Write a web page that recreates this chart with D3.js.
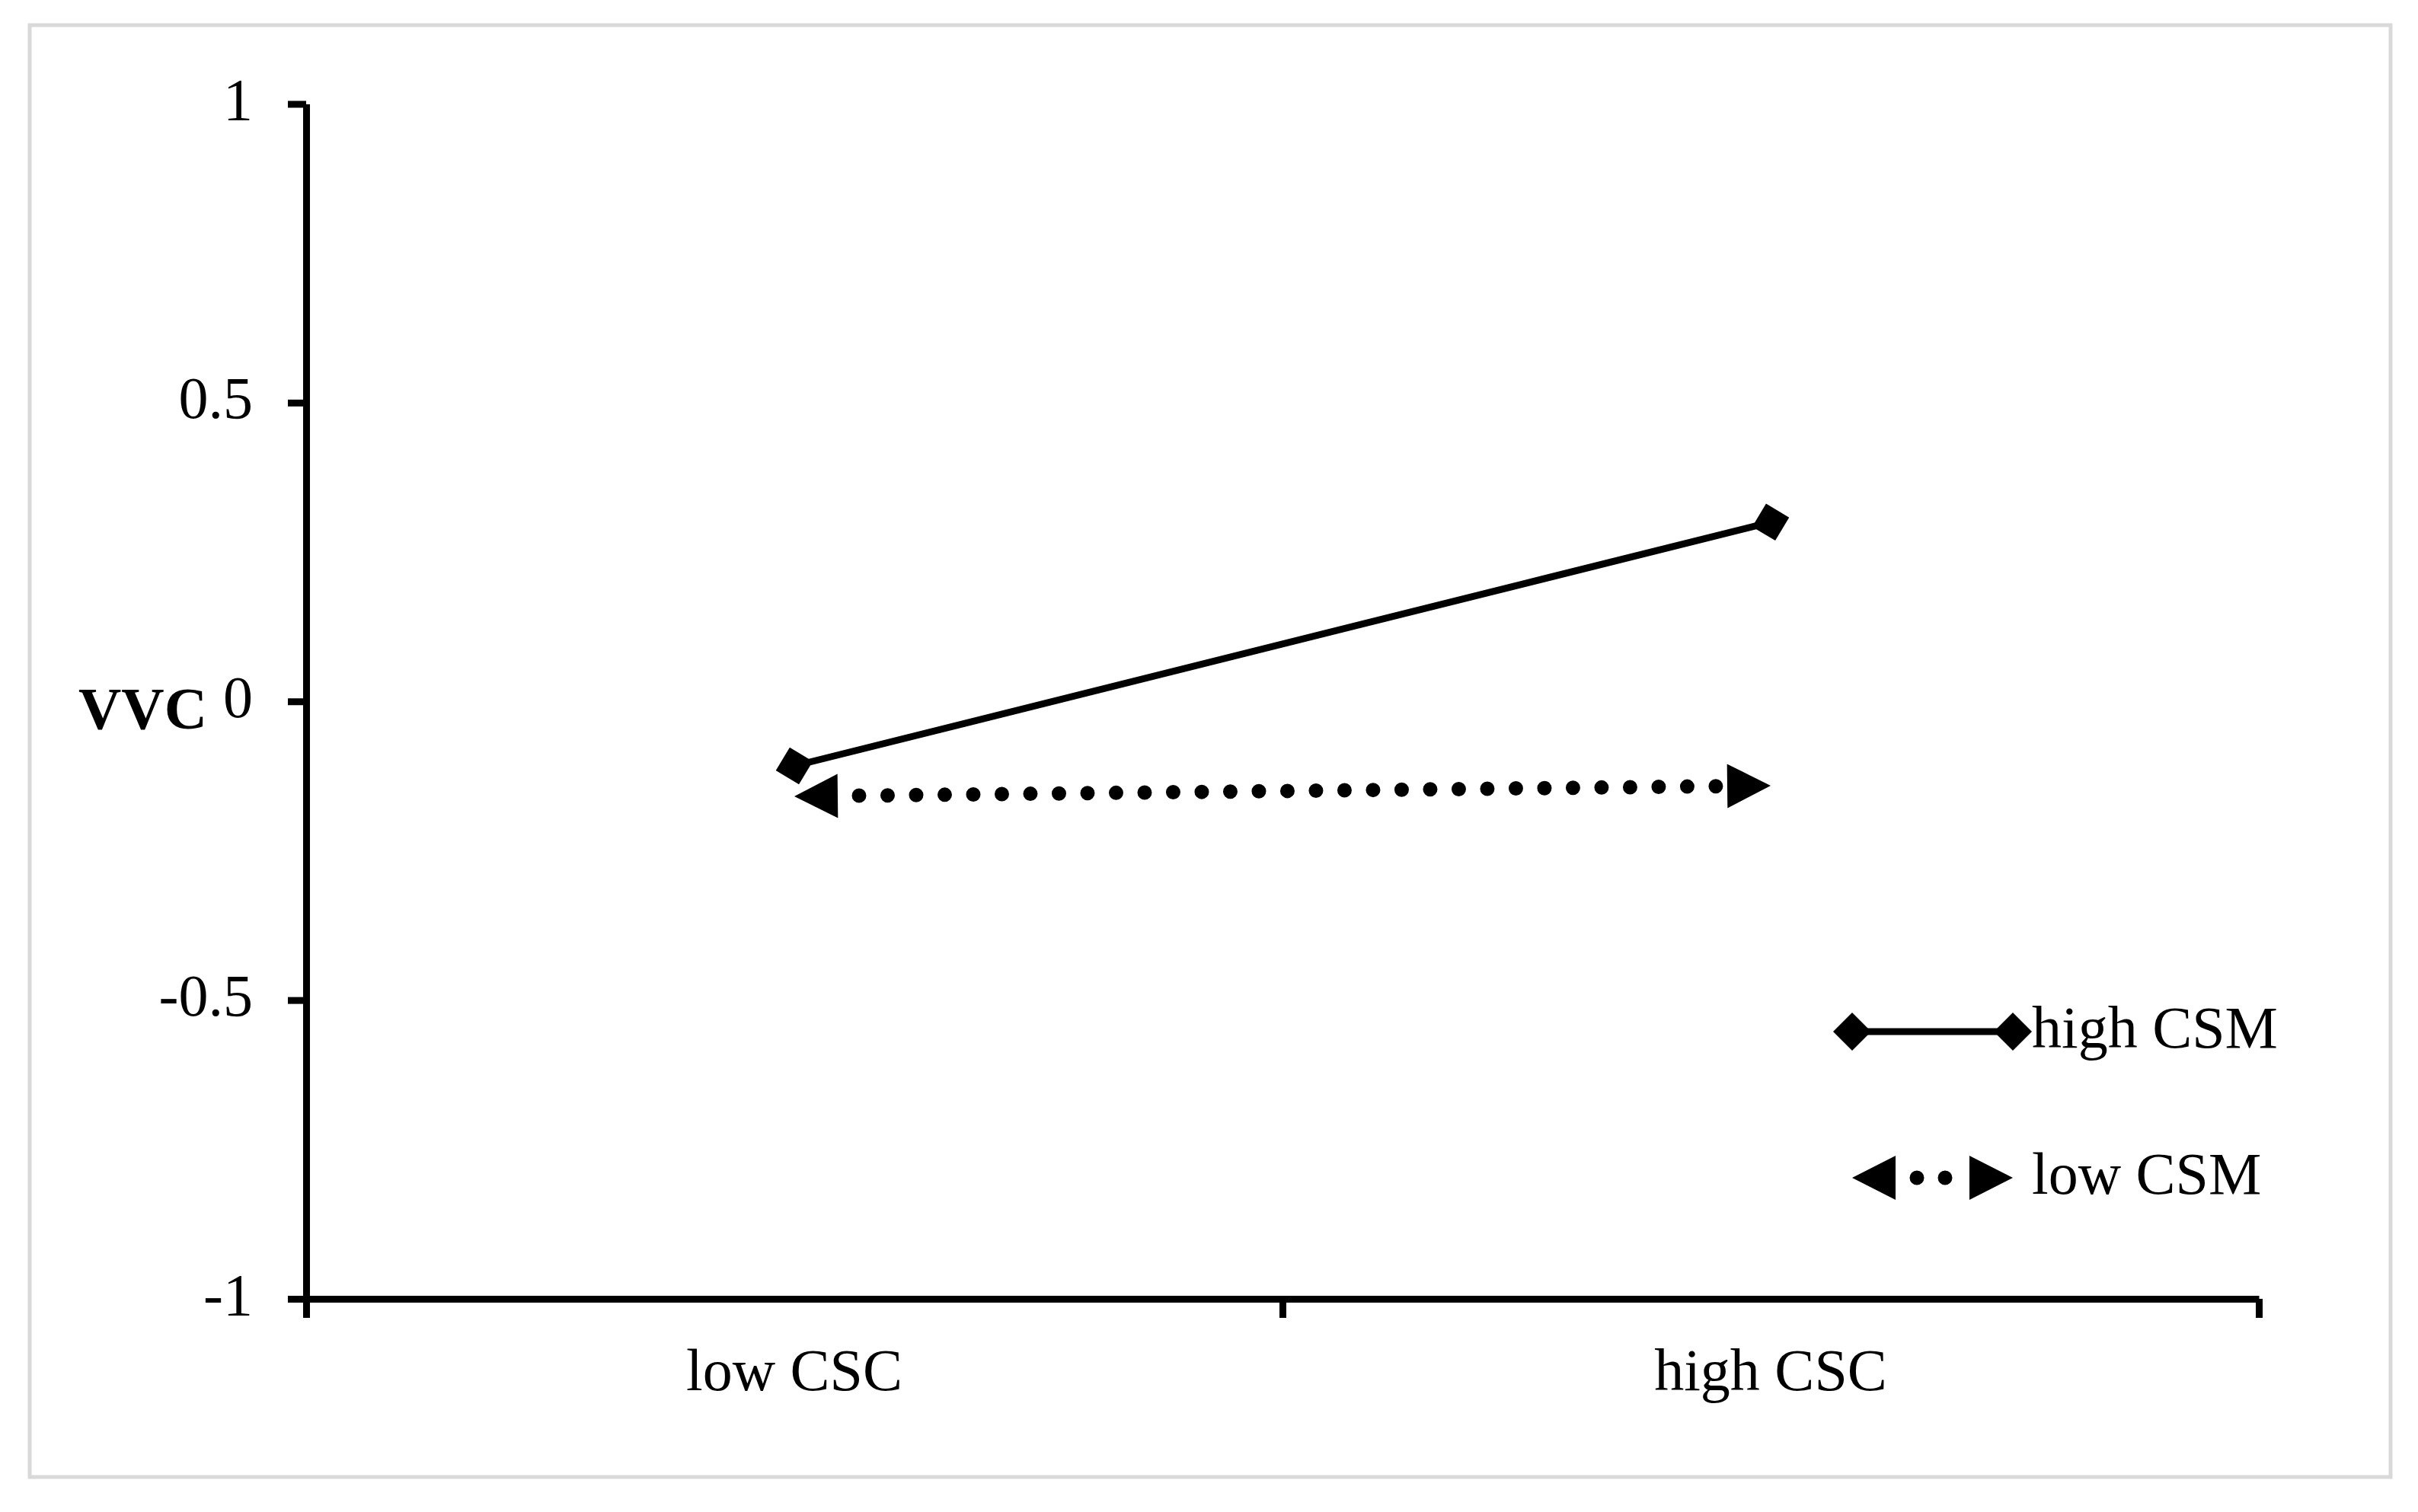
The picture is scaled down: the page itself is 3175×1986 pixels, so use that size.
<!DOCTYPE html>
<html lang="en">
<head>
  <meta charset="UTF-8" />
  <title>VVC by CSC and CSM</title>
  <script src="https://d3js.org/d3.v7.min.js"></script>
  <style>
    body { margin: 0; background: #fff; }
    svg { display: block; }
    text { font-family: "Liberation Serif", "Times New Roman", serif; fill: #000; }
  </style>
</head>
<body>
  <svg id="chart" width="3175" height="1986"></svg>

  <script>
    // values
    const categories = ['low CSC', 'high CSC'];
    const seriesNames = ['high CSM', 'low CSM'];
    const highCSM = [-0.108, 0.300];
    const lowCSM = [-0.159, -0.141];
    const yTicks = [-1, -0.5, 0, 0.5, 1];

    const svg = d3.select('#chart');
    const fontSize = 78;

    // outer light grey frame
    svg.append('rect')
      .attr('x', 39).attr('y', 33)
      .attr('width', 3100).attr('height', 1907)
      .attr('fill', 'none')
      .attr('stroke', '#d9d9d9')
      .attr('stroke-width', 5);

    const plotLeft = 402, plotRight = 2966, plotTop = 136.5, plotBottom = 1706;

    const y = d3.scaleLinear().domain([-1, 1]).range([plotBottom, plotTop]);
    // boundary scale for the x ticks, categories sit between ticks
    const xb = d3.scaleLinear().domain([0, categories.length]).range([plotLeft, plotRight]);
    const xc = i => xb(i + 0.5);

    // y axis
    const gy = svg.append('g')
      .attr('transform', `translate(${plotLeft},0)`)
      .call(d3.axisLeft(y)
        .tickValues(yTicks)
        .tickSize(24)
        .tickSizeOuter(0)
        .tickFormat(d => String(d)));

    // x axis (ticks only, labels added below)
    const gx = svg.append('g')
      .attr('transform', `translate(0,${plotBottom})`)
      .call(d3.axisBottom(xb)
        .tickValues(d3.range(categories.length + 1))
        .tickSize(25)
        .tickSizeOuter(0)
        .tickFormat(''));

    [gy, gx].forEach(g => {
      g.selectAll('path, line').attr('stroke', '#000').attr('stroke-width', 9);
      g.selectAll('text').remove();
    });

    // y tick labels
    svg.append('g')
      .selectAll('text')
      .data(yTicks)
      .join('text')
      .attr('x', 332)
      .attr('y', d => y(d) + 20.5)
      .attr('text-anchor', 'end')
      .attr('font-size', fontSize)
      .text(d => String(d));

    // category labels
    svg.append('g')
      .selectAll('text')
      .data(categories)
      .join('text')
      .attr('x', (d, i) => xc(i))
      .attr('y', 1826)
      .attr('text-anchor', 'middle')
      .attr('font-size', fontSize)
      .text(d => d);

    // axis title
    svg.append('text')
      .attr('x', 272)
      .attr('y', 957)
      .attr('text-anchor', 'end')
      .attr('font-size', fontSize)
      .attr('font-weight', 'bold')
      .text('VVC');

    // helpers for the line-end shapes
    function diamond(p, u, r) {
      const n = [-u[1], u[0]];
      return [
        [p[0] + u[0] * r, p[1] + u[1] * r],
        [p[0] + n[0] * r, p[1] + n[1] * r],
        [p[0] - u[0] * r, p[1] - u[1] * r],
        [p[0] - n[0] * r, p[1] - n[1] * r]
      ];
    }
    function arrow(p, u, len, half) {
      const n = [-u[1], u[0]];
      const b = [p[0] - u[0] * len, p[1] - u[1] * len];
      return [
        p,
        [b[0] + n[0] * half, b[1] + n[1] * half],
        [b[0] - n[0] * half, b[1] - n[1] * half]
      ];
    }
    const poly = pts => 'M' + pts.map(q => q.join(',')).join('L') + 'Z';
    const unit = (a, b) => {
      const dx = b[0] - a[0], dy = b[1] - a[1], l = Math.hypot(dx, dy);
      return [dx / l, dy / l];
    };

    const arrowLen = 57, arrowHalf = 29, diaR = 25, dotGap = 37.5, dotW = 19;

    // solid series with diamond ends
    function drawSolid(g, p0, p1) {
      g.append('line')
        .attr('x1', p0[0]).attr('y1', p0[1])
        .attr('x2', p1[0]).attr('y2', p1[1])
        .attr('stroke', '#000').attr('stroke-width', 9);
      const u = unit(p0, p1);
      g.append('path').attr('d', poly(diamond(p1, u, diaR))).attr('fill', '#000');
      g.append('path').attr('d', poly(diamond(p0, [-u[0], -u[1]], diaR))).attr('fill', '#000');
    }

    // dotted series with triangle arrow ends
    function drawDotted(g, p0, p1, gap) {
      const u = unit(p0, p1);
      const a = [p0[0] + u[0] * arrowLen, p0[1] + u[1] * arrowLen];
      const b = [p1[0] - u[0] * arrowLen, p1[1] - u[1] * arrowLen];
      g.append('line')
        .attr('x1', a[0]).attr('y1', a[1])
        .attr('x2', b[0]).attr('y2', b[1])
        .attr('stroke', '#000').attr('stroke-width', dotW)
        .attr('stroke-linecap', 'round')
        .attr('stroke-dasharray', `0 ${gap}`)
        .attr('stroke-dashoffset', gap - 28);
      g.append('path').attr('d', poly(arrow(p1, u, arrowLen, arrowHalf))).attr('fill', '#000');
      g.append('path').attr('d', poly(arrow(p0, [-u[0], -u[1]], arrowLen, arrowHalf))).attr('fill', '#000');
    }

    const plot = svg.append('g');
    const hi = highCSM.map((v, i) => [xc(i), y(v)]);
    const lo = lowCSM.map((v, i) => [xc(i), y(v)]);
    drawDotted(plot, lo[0], lo[1], dotGap);
    drawSolid(plot, hi[0], hi[1]);

    // legend
    const legend = svg.append('g');
    const lx0 = 2432, lx1 = 2643, ly = [1355, 1547];
    drawSolid(legend, [lx0, ly[0]], [lx1, ly[0]]);
    drawDotted(legend, [lx0, ly[1]], [lx1, ly[1]], 37);
    legend.selectAll('text')
      .data(seriesNames)
      .join('text')
      .attr('x', 2668)
      .attr('y', (d, i) => ly[i] + 21)
      .attr('font-size', fontSize)
      .text(d => d);
  </script>
</body>
</html>
